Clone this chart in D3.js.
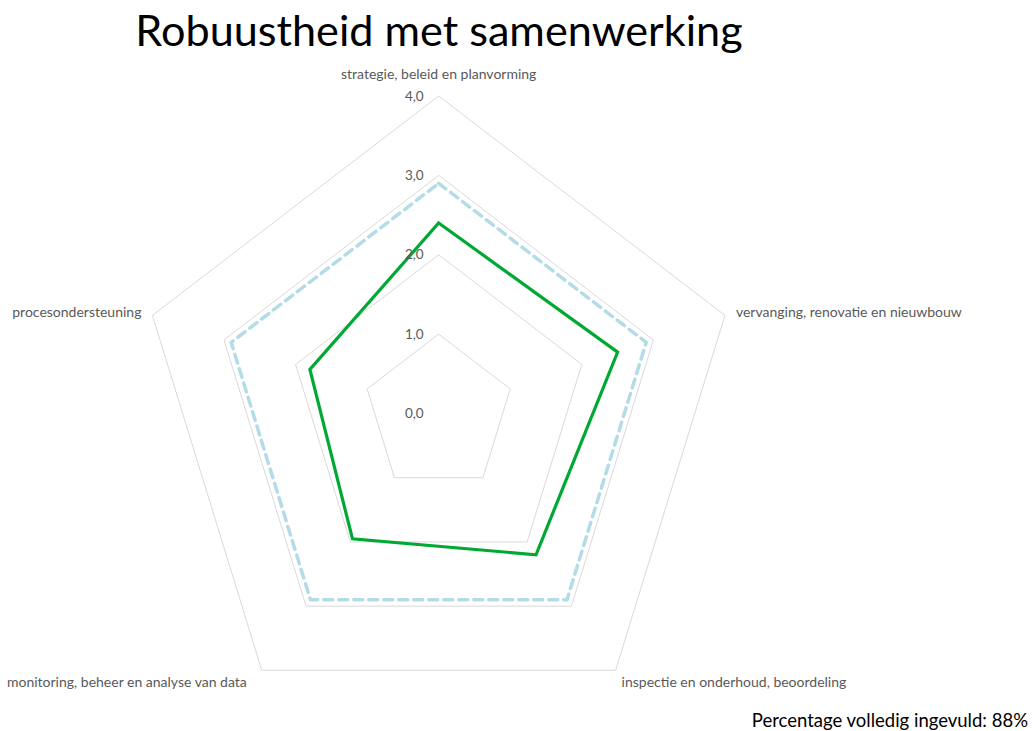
<!DOCTYPE html>
<html>
<head>
<meta charset="utf-8">
<script src="https://cdn.jsdelivr.net/npm/d3@7"></script>
<style>
  body { margin: 0; background: #fff; }
  text { font-family: Lato, "Open Sans", sans-serif; }
</style>
</head>
<body>
<script>
// chart data
let axes = ["strategie, beleid en planvorming", "vervanging, renovatie en nieuwbouw",
            "inspectie en onderhoud, beoordeling", "monitoring, beheer en analyse van data",
            "procesondersteuning"];
let samenwerking = [2.4, 2.5, 2.2, 1.95, 1.8];
let referentie = [2.9, 2.9, 2.9, 2.9, 2.9];
let levels = [1, 2, 3, 4];
let tickLabels = ["0,0", "1,0", "2,0", "3,0", "4,0"];

let width = 1032, height = 731;
let cx = 438.7, cy = 413.5;

let svg = d3.select("body").append("svg")
    .attr("width", width).attr("height", height);

// excel stretches the radar a little vertically
let rx = d3.scaleLinear().domain([0, 4]).range([0, 301]);
let ry = d3.scaleLinear().domain([0, 4]).range([0, 317.5]);
let angle = d3.scaleLinear().domain([0, axes.length]).range([0, 2 * Math.PI]);

function pt(v, i)
{
    let a = angle(i);
    return [cx + rx(v) * Math.sin(a), cy - ry(v) * Math.cos(a)];
}

let line = d3.line().curve(d3.curveLinearClosed);

// grid pentagons
svg.append("g").selectAll("path")
    .data(levels)
    .enter().append("path")
    .attr("d", function(l){ return line(axes.map(function(a, i){ return pt(l, i); })); })
    .attr("fill", "none")
    .attr("stroke", "#d9d9d9")
    .attr("stroke-width", 1);

// series
svg.append("path")
    .attr("d", line(referentie.map(pt)))
    .attr("fill", "none")
    .attr("stroke", "#b4dce7")
    .attr("stroke-width", 3.5)
    .attr("stroke-dasharray", "9,6")
    .attr("stroke-linecap", "round")
    .attr("stroke-linejoin", "round");

svg.append("path")
    .attr("d", line(samenwerking.map(pt)))
    .attr("fill", "none")
    .attr("stroke", "#00a933")
    .attr("stroke-width", 3.2)
    .attr("stroke-linejoin", "miter");

// tick labels
svg.append("g").selectAll("text")
    .data(tickLabels)
    .enter().append("text")
    .attr("x", cx - 15)
    .attr("y", function(d, i){ return cy - ry(i); })
    .attr("dy", "0.35em")
    .attr("text-anchor", "end")
    .attr("font-size", 13.5)
    .attr("fill", "#595959")
    .text(function(d){ return d; });

// axis labels
let labelPos = [
    {dx: 0, dy: -22, anchor: "middle"},
    {dx: 11, dy: -3, anchor: "start"},
    {dx: 6, dy: 12, anchor: "start"},
    {dx: -15, dy: 12, anchor: "end"},
    {dx: -11, dy: -3, anchor: "end"}
];
svg.append("g").selectAll("text")
    .data(axes)
    .enter().append("text")
    .attr("x", function(d, i){ return pt(4, i)[0] + labelPos[i].dx; })
    .attr("y", function(d, i){ return pt(4, i)[1] + labelPos[i].dy; })
    .attr("dy", "0.35em")
    .attr("text-anchor", function(d, i){ return labelPos[i].anchor; })
    .attr("font-size", 14)
    .attr("fill", "#595959")
    .text(function(d){ return d; });

// title
svg.append("text")
    .attr("x", 439).attr("y", 46)
    .attr("text-anchor", "middle")
    .attr("font-size", 43.2)
    .attr("fill", "#000")
    .text("Robuustheid met samenwerking");

svg.append("text")
    .attr("x", 1028).attr("y", 727)
    .attr("text-anchor", "end")
    .attr("font-size", 18.5)
    .attr("fill", "#000")
    .text("Percentage volledig ingevuld: 88%");
</script>
</body>
</html>
